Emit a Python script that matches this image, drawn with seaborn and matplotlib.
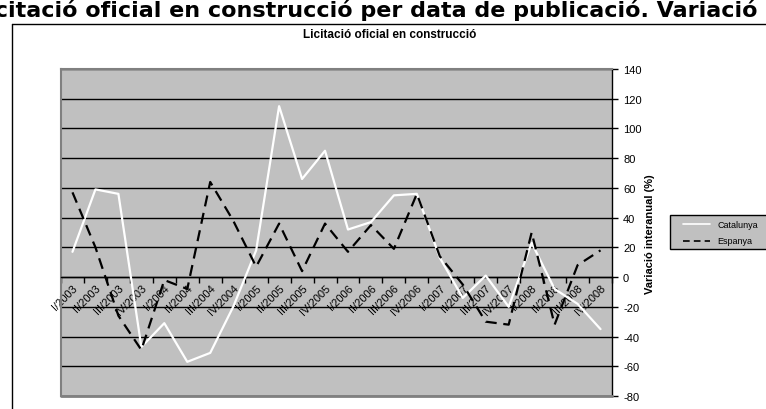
import matplotlib
matplotlib.use("Agg")
import matplotlib.pyplot as plt
import numpy as np
import pandas as pd
import seaborn as sns
from matplotlib.lines import Line2D
from matplotlib.patches import Rectangle

quarters = ["I/2003", "II/2003", "III/2003", "IV/2003",
            "I/2004", "II/2004", "III/2004", "IV/2004",
            "I/2005", "II/2005", "III/2005", "IV/2005",
            "I/2006", "II/2006", "III/2006", "IV/2006",
            "I/2007", "II/2007", "III/2007", "IV/2007",
            "I/2008", "II/2008", "III/2008", "IV/2008"]
catalunya = [17, 59, 56, -47, -31, -57, -51, -20, 18, 115, 66, 85,
             32, 37, 55, 56, 13, -14, 1, -20, 23, -8, -18, -35]
espanya = [57, 20, -26, -49, -2, -8, 64, 38, 7, 36, 4, 36,
           17, 35, 19, 56, 14, -5, -30, -32, 30, -32, 8, 18]
series_names = ["Catalunya", "Espanya"]
yticks = list(range(-80, 141, 20))

sns.set_theme(style="white")
plt.rcParams["font.family"] = ["Liberation Sans", "DejaVu Sans"]
plt.rcParams["text.color"] = "black"
plt.rcParams["xtick.color"] = "black"
plt.rcParams["ytick.color"] = "black"
plt.rcParams["xtick.labelcolor"] = "black"
plt.rcParams["ytick.labelcolor"] = "black"

W, H = 766, 410
fig = plt.figure(figsize=(W / 100, H / 100), dpi=100)
fig.patch.set_facecolor("white")

# outer chart border
fig.add_artist(Line2D([12 / W, 1.0], [1 - 25 / H, 1 - 25 / H], color="black", lw=1))
fig.add_artist(Line2D([12 / W, 12 / W], [0, 1 - 25 / H], color="black", lw=1))

# big cropped heading
fig.text(-27 / W, 1 - 17 / H,
         "Licitació oficial en construcció per data de publicació. Variació interanual",
         fontsize=16, fontweight="bold", family=["DejaVu Sans"], color="black",
         ha="left", va="baseline")

# inner title
fig.text(390 / W, 1 - 35 / H, "Licitació oficial en construcció",
         fontsize=8.5, fontweight="bold", color="black", ha="center", va="center")

ax = fig.add_axes([61 / W, 13 / H, 551 / W, 327 / H])
ax.set_facecolor("#C0C0C0")

n = len(quarters)
df = pd.DataFrame({
    "pos": list(range(n)) * 2,
    "val": catalunya + espanya,
    "serie": [series_names[0]] * n + [series_names[1]] * n,
})

for y in yticks:
    ax.axhline(y, color="black", lw=1, zorder=1)

sns.lineplot(data=df, x="pos", y="val", hue="serie", style="serie",
             palette={"Catalunya": "white", "Espanya": "black"},
             dashes={"Catalunya": "", "Espanya": (5, 3)},
             linewidth=1.6, ax=ax, legend=False, zorder=3)

ax.set_xlim(-0.5, n - 0.5)
ax.set_ylim(-80, 140)
ax.set_xlabel("")
ax.set_ylabel("")

# y axis on the right
ax.yaxis.tick_right()
ax.set_yticks(yticks)
ax.set_yticklabels([str(v) for v in yticks], fontsize=8)
ax.tick_params(axis="y", which="major", direction="out", length=4, width=1,
               color="black", pad=4, labelcolor="black")

# x axis crossing at 0
ax.spines["bottom"].set_position(("data", 0))
ax.spines["bottom"].set_color("black")
ax.spines["bottom"].set_linewidth(1)
ax.set_xticks(np.arange(-0.5, n, 1.0))
ax.set_xticklabels([])
ax.set_xticks(np.arange(n), minor=True)
ax.set_xticklabels(quarters, minor=True, rotation=45, ha="right",
                   rotation_mode="anchor", fontsize=8, color="black")
ax.tick_params(axis="x", which="major", direction="out", length=4, width=1,
               color="black", bottom=True)
ax.tick_params(axis="x", which="minor", length=0, pad=4, bottom=True)

for s in ["top", "left"]:
    ax.spines[s].set_color("#808080")
    ax.spines[s].set_linewidth(1.5)
ax.spines["right"].set_color("black")
ax.spines["right"].set_linewidth(1)
ax.axhline(-80, color="#808080", lw=2, zorder=4, clip_on=False)

# y label
fig.text(650 / W, 1 - 234 / H, "Variació interanual (%)", rotation=90,
         fontsize=8, fontweight="bold", color="black", ha="center", va="center")

# legend (manual)
fig.add_artist(Rectangle((670 / W, 1 - 250 / H), 100 / W, 34 / H,
                         facecolor="#C0C0C0", edgecolor="black", lw=1,
                         transform=fig.transFigure))
fig.add_artist(Line2D([683 / W, 710 / W], [1 - 225 / H, 1 - 225 / H],
                      color="white", lw=1.2))
fig.add_artist(Line2D([683 / W, 710 / W], [1 - 242 / H, 1 - 242 / H],
                      color="black", lw=1.2, dashes=(4, 2.5)))
fig.text(717 / W, 1 - 225 / H, series_names[0], fontsize=6.5, color="black",
         ha="left", va="center")
fig.text(717 / W, 1 - 242 / H, series_names[1], fontsize=6.5, color="black",
         ha="left", va="center")

fig.savefig("out.png", dpi=100)
